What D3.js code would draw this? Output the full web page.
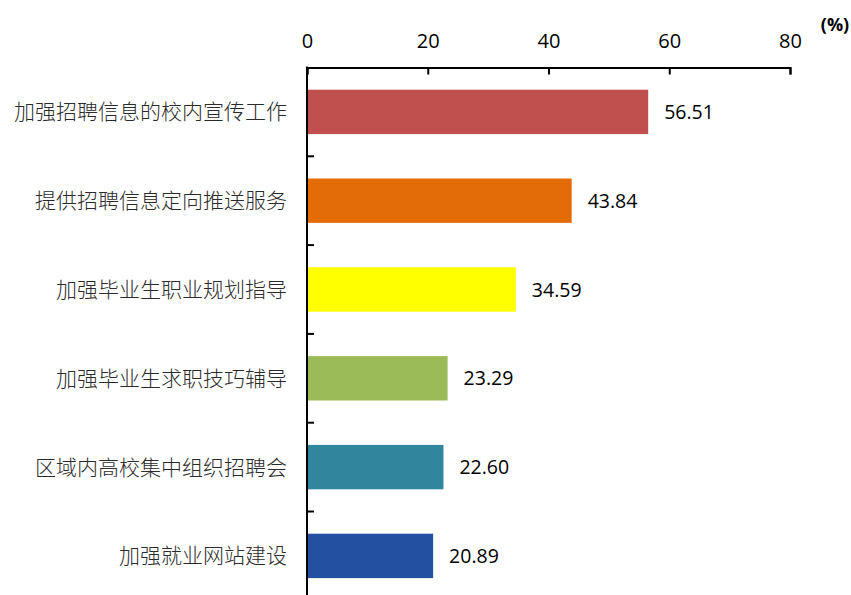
<!DOCTYPE html>
<html><head><meta charset="utf-8">
<script src="https://cdn.jsdelivr.net/npm/d3@7"></script>
<style>body{margin:0;background:#fff}</style>
</head><body>
<svg id="c" width="851" height="595"></svg>
<script>
const categories = ["加强招聘信息的校内宣传工作","提供招聘信息定向推送服务","加强毕业生职业规划指导","加强毕业生求职技巧辅导","区域内高校集中组织招聘会","加强就业网站建设"];
const values = [56.51, 43.84, 34.59, 23.29, 22.60, 20.89];
const colors = ["#C0504D","#E36C09","#FFFF00","#9BBB59","#31859C","#2350A0"];
const xTicks = [0, 20, 40, 60, 80];
const unitLabel = "(%)";

const svg = d3.select("#c");
const x = d3.scaleLinear().domain([0, 80]).range([307, 790]);
const y = d3.scaleBand().domain(categories).range([67.5, 600.3]).paddingInner(0.5).paddingOuter(0.25);
const numFont = "'Open Sans', 'Liberation Sans', sans-serif";
const cjkFont = "'Noto Sans CJK SC', sans-serif";

// bars
svg.selectAll("rect.bar").data(categories).join("rect")
  .attr("class","bar")
  .attr("x", x(0))
  .attr("y", d => y(d))
  .attr("width", (d,i) => x(values[i]) - x(0))
  .attr("height", y.bandwidth())
  .attr("fill", (d,i) => colors[i]);

// value labels
svg.selectAll("text.val").data(categories).join("text")
  .attr("class","val")
  .attr("x", (d,i) => x(values[i]) + 16)
  .attr("y", d => y(d) + y.bandwidth()/2)
  .attr("dy","0.36em")
  .attr("font-family", numFont).attr("font-size", 19.5).attr("fill","#000")
  .text((d,i) => values[i].toFixed(2));

// top axis
const xAxis = d3.axisTop(x).tickValues(xTicks).tickSize(-7).tickPadding(0).tickSizeOuter(-7);
const gx = svg.append("g").attr("transform","translate(0,67.5)").call(xAxis);
gx.select(".domain").attr("stroke","#000").attr("stroke-width",2);
gx.selectAll(".tick line").attr("stroke","#000").attr("stroke-width",2);
gx.selectAll(".tick text").attr("font-family", numFont).attr("font-size", 20).attr("fill","#000")
  .attr("y", -20);

// unit label
svg.append("text").attr("x", 835).attr("y", 31).attr("text-anchor","middle")
  .attr("font-family", numFont).attr("font-weight","bold").attr("font-size", 18).attr("fill","#000")
  .text(unitLabel);

// left axis
const step = y.step();
const boundaries = categories.map(d => y(d) - step*0.25).slice(1).concat([y(categories[categories.length-1]) + y.bandwidth() + step*0.25]);
svg.append("line").attr("x1", x(0)).attr("x2", x(0)).attr("y1", 66.5).attr("y2", 595)
  .attr("stroke","#000").attr("stroke-width",2);
svg.selectAll("line.yt").data(boundaries).join("line").attr("class","yt")
  .attr("x1", x(0)).attr("x2", x(0)+7).attr("y1", d => d).attr("y2", d => d)
  .attr("stroke","#000").attr("stroke-width",2);

// category labels
svg.selectAll("text.cat").data(categories).join("text")
  .attr("class","cat")
  .attr("x", 287)
  .attr("y", d => y(d) + y.bandwidth()/2)
  .attr("dy","0.36em")
  .attr("text-anchor","end")
  .attr("font-family", cjkFont).attr("font-weight", 300).attr("font-size", 21).attr("fill","#2a2a2a")
  .text(d => d);
</script>
</body></html>
